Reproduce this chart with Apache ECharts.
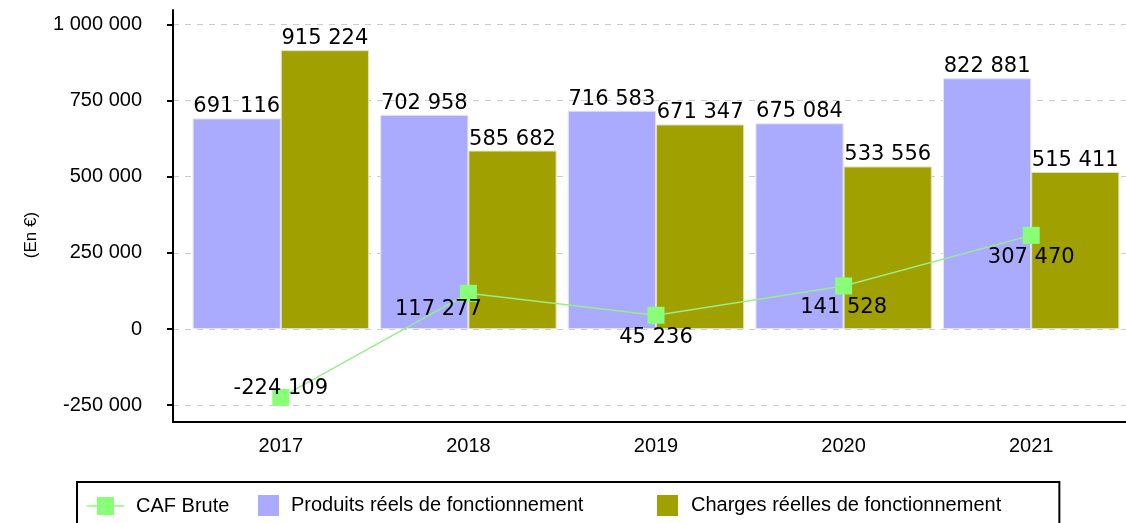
<!DOCTYPE html>
<html>
<head>
<meta charset="utf-8">
<script src="https://cdn.jsdelivr.net/npm/echarts@6/dist/echarts.min.js"></script>
<style>
  html, body { margin: 0; padding: 0; background: #fff; }
  #main { width: 1126px; height: 523px; }
</style>
</head>
<body>
<div id="main"></div>
<script>
// donnees du graphique
var years = ['2017', '2018', '2019', '2020', '2021'];
var produits = [691116, 702958, 716583, 675084, 822881]; // Produits réels de fonctionnement
var charges = [915224, 585682, 671347, 533556, 515411]; // Charges réelles de fonctionnement
var cafBrute = [-224109, 117277, 45236, 141528, 307470]; // CAF Brute
var yTicks = [-250000, 0, 250000, 500000, 750000, 1000000];

var yMin = -305000;
var yMax = 1047000;

function fmt(v) {
  var s = String(Math.abs(v)).replace(/\B(?=(\d{3})+(?!\d))/g, ' ');
  return (v < 0 ? '-' : '') + s;
}

var chart = echarts.init(document.getElementById('main'));

var labelFont = {
  color: '#000',
  fontSize: 21,
  fontFamily: 'DejaVu Sans'
};

var legendText = {
  color: '#000',
  fontSize: 20,
  fontFamily: 'Liberation Sans'
};

var option = {
  backgroundColor: '#fff',
  animation: false,
  grid: [
    { left: 187, right: 1, top: 10, bottom: 101 }, // grille des donnees
    { left: 173, right: 0, top: 10, bottom: 101 }  // cadre des axes
  ],
  legend: [{
      left: 77,
      top: 482,
      padding: [14, 830, 40, 10],
      borderColor: '#000',
      borderWidth: 2,
      itemWidth: 37,
      itemHeight: 18,
      data: [{
        name: 'CAF Brute',
        // trait + carre comme dans la legende d'origine
        icon: 'path://M0,8.25h37v1.5h-37zM10,0h17v18h-17z'
      }],
      itemStyle: { color: '#88ff77', borderWidth: 0 },
      textStyle: Object.assign({ padding: [2, 0, 0, 7] }, legendText)
    },
    {
      left: 258,
      top: 495,
      padding: 0,
      itemWidth: 21,
      itemHeight: 21,
      data: [{ name: 'Produits réels de fonctionnement', icon: 'rect' }],
      itemStyle: { borderWidth: 0 },
      textStyle: Object.assign({ padding: [0, 0, 0, 7] }, legendText)
    },
    {
      left: 657,
      top: 495,
      padding: 0,
      itemWidth: 21,
      itemHeight: 21,
      data: [{ name: 'Charges réelles de fonctionnement', icon: 'rect' }],
      itemStyle: { borderWidth: 0 },
      textStyle: Object.assign({ padding: [0, 0, 0, 8] }, legendText)
    }
  ],
  xAxis: [{
      type: 'category',
      gridIndex: 0,
      data: years,
      axisLine: { show: false, onZero: false },
      axisTick: { show: false },
      axisLabel: {
        color: '#000',
        fontSize: 20,
        fontFamily: 'Liberation Sans',
        margin: 14
      }
    },
    {
      type: 'value',
      gridIndex: 1,
      min: 0,
      max: 1,
      axisLine: { show: true, onZero: false, lineStyle: { color: '#000', width: 2 } },
      axisTick: { show: false },
      axisLabel: { show: false },
      splitLine: { show: false }
    }
  ],
  yAxis: [{
      type: 'value',
      gridIndex: 0,
      min: yMin,
      max: yMax,
      show: false
    },
    {
      type: 'value',
      gridIndex: 1,
      min: yMin,
      max: yMax,
      name: '(En €)',
      nameLocation: 'middle',
      nameGap: 133,
      nameTextStyle: {
        color: '#000',
        fontSize: 17,
        fontFamily: 'Liberation Sans',
        padding: [0, 38, 0, 0]
      },
      axisLine: { show: true, lineStyle: { color: '#000', width: 2 } },
      axisTick: {
        show: true,
        length: 6,
        customValues: yTicks,
        lineStyle: { color: '#000', width: 2 }
      },
      axisLabel: {
        color: '#000',
        fontSize: 20,
        fontFamily: 'Liberation Sans',
        margin: 31,
        customValues: yTicks,
        formatter: function (v) { return fmt(v); }
      },
      splitLine: {
        show: true,
        lineStyle: { color: '#ccc', type: [6, 6], width: 1 }
      }
    }
  ],
  series: [{
      name: 'Produits réels de fonctionnement',
      type: 'bar',
      xAxisIndex: 0,
      yAxisIndex: 0,
      data: produits,
      barGap: '0%',
      barCategoryGap: '6%',
      itemStyle: { color: '#aaaaff', borderColor: '#e4e4f4', borderWidth: 1 },
      label: Object.assign({
        show: true,
        position: 'top',
        distance: 1,
        formatter: function (p) { return fmt(p.value); }
      }, labelFont)
    },
    {
      name: 'Charges réelles de fonctionnement',
      type: 'bar',
      xAxisIndex: 0,
      yAxisIndex: 0,
      data: charges,
      itemStyle: { color: '#a0a000', borderColor: '#e0e0c0', borderWidth: 1 },
      label: Object.assign({
        show: true,
        position: 'top',
        distance: 1,
        formatter: function (p) { return fmt(p.value); }
      }, labelFont)
    },
    {
      name: 'CAF Brute',
      type: 'line',
      xAxisIndex: 0,
      yAxisIndex: 0,
      z: 5,
      symbol: 'rect',
      symbolSize: 17,
      itemStyle: { color: '#88ff77' },
      lineStyle: { color: '#99ee88', width: 1.5 },
      data: cafBrute.map(function (v, i) {
        var d = { value: v };
        if (i === 0) d.label = { position: 'top', distance: -10 };
        if (i === 1) d.label = { offset: [-30, -6] };
        return d;
      }),
      label: Object.assign({
        show: true,
        position: 'bottom',
        distance: 3,
        formatter: function (p) { return fmt(p.value); }
      }, labelFont)
    }
  ]
};

chart.setOption(option);
</script>
</body>
</html>
